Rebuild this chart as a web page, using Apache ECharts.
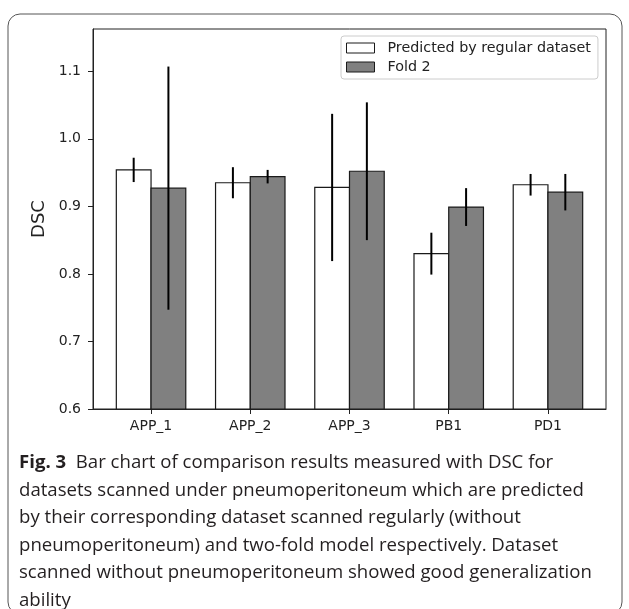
<!DOCTYPE html>
<html>
<head>
<meta charset="utf-8">
<title>DSC comparison</title>
<script src="https://cdn.jsdelivr.net/npm/echarts@6/dist/echarts.min.js"></script>
<style>
  html, body { margin: 0; padding: 0; background: #fff; }
  #main { width: 629px; height: 609px; }
</style>
</head>
<body>
<div id="main"></div>
<script>
// data
var categories = ['APP_1', 'APP_2', 'APP_3', 'PB1', 'PD1'];
var regularMean = [0.954, 0.935, 0.928, 0.830, 0.932];
var regularErr = [0.018, 0.023, 0.109, 0.031, 0.016];
var foldMean = [0.927, 0.944, 0.952, 0.899, 0.921];
var foldErr = [0.180, 0.010, 0.102, 0.028, 0.027];
var yTicks = [0.6, 0.7, 0.8, 0.9, 1.0, 1.1];
var seriesNames = ['Predicted by regular dataset', 'Fold 2'];
var captionLines = [
    '{b|Fig. 3}  Bar chart of comparison results measured with DSC for',
    'datasets scanned under pneumoperitoneum which are predicted',
    'by their corresponding dataset scanned regularly (without',
    'pneumoperitoneum) and two-fold model respectively. Dataset',
    'scanned without pneumoperitoneum showed good generalization',
    'ability'
];

var BAR_W = 0.35;
var Y_MIN = 0.6;
var TXT = '#222';

var chart = echarts.init(document.getElementById('main'));

function toData(means, errs) {
    return means.map(function (m, i) {
        return [i, m, errs[i]];
    });
}

// bar + vertical error line, positioned through the axes
function barRenderer(offset, fill) {
    return function (params, api) {
        var x = api.value(0) + offset;
        var mean = api.value(1);
        var err = api.value(2);
        var tl = api.coord([x - BAR_W / 2, mean]);
        var br = api.coord([x + BAR_W / 2, Y_MIN]);
        var et = api.coord([x, mean + err]);
        var eb = api.coord([x, mean - err]);
        return {
            type: 'group',
            children: [{
                type: 'rect',
                shape: {x: tl[0], y: tl[1], width: br[0] - tl[0], height: br[1] - tl[1]},
                style: {fill: fill, stroke: '#1a1a1a', lineWidth: 1.2}
            }, {
                type: 'line',
                shape: {x1: et[0], y1: et[1], x2: eb[0], y2: eb[1]},
                style: {stroke: '#000', lineWidth: 2}
            }]
        };
    };
}

var catIdx = categories.map(function (c, i) { return i; });

chart.setOption({
    backgroundColor: '#fff',
    animation: false,
    grid: {
        left: 93, right: 23, top: 29, bottom: 200,
        show: true, borderColor: TXT, borderWidth: 1
    },
    legend: {
        orient: 'vertical',
        left: 341, top: 36,
        padding: [5, 7, 5, 5],
        itemGap: 5,
        itemWidth: 28, itemHeight: 10,
        icon: 'rect',
        backgroundColor: 'rgba(255,255,255,0.8)',
        borderColor: '#cccccc', borderWidth: 1, borderRadius: 3,
        textStyle: {color: TXT, fontFamily: 'DejaVu Sans', fontSize: 14.3, padding: [0, 0, 0, 8]},
        data: [
            {name: seriesNames[0], itemStyle: {color: '#ffffff', borderColor: '#1a1a1a', borderWidth: 1}},
            {name: seriesNames[1], itemStyle: {color: '#808080', borderColor: '#1a1a1a', borderWidth: 1}}
        ]
    },
    xAxis: {
        type: 'value',
        min: -0.585, max: 4.585,
        axisLine: {show: true, onZero: false, lineStyle: {color: TXT}},
        axisTick: {show: true, customValues: catIdx, length: 5, lineStyle: {color: TXT}},
        axisLabel: {
            customValues: catIdx,
            margin: 10,
            color: TXT, fontFamily: 'DejaVu Sans', fontSize: 14,
            formatter: function (v) { return categories[Math.round(v)]; }
        },
        splitLine: {show: false}
    },
    yAxis: {
        type: 'value',
        min: Y_MIN, max: 1.1626,
        name: 'DSC',
        nameLocation: 'middle',
        nameGap: 45,
        nameTextStyle: {color: TXT, fontFamily: 'DejaVu Sans', fontSize: 18},
        axisLine: {show: true, onZero: false, lineStyle: {color: TXT}},
        axisTick: {show: true, customValues: yTicks, length: 5, lineStyle: {color: TXT}},
        axisLabel: {
            customValues: yTicks,
            margin: 12,
            color: TXT, fontFamily: 'DejaVu Sans', fontSize: 14,
            formatter: function (v) { return v.toFixed(1); }
        },
        splitLine: {show: false}
    },
    series: [{
        name: seriesNames[0],
        type: 'custom',
        itemStyle: {color: '#ffffff', borderColor: '#1a1a1a'},
        renderItem: barRenderer(-BAR_W / 2, '#ffffff'),
        encode: {x: 0, y: 1},
        data: toData(regularMean, regularErr)
    }, {
        name: seriesNames[1],
        type: 'custom',
        itemStyle: {color: '#808080', borderColor: '#1a1a1a'},
        renderItem: barRenderer(BAR_W / 2, '#808080'),
        encode: {x: 0, y: 1},
        data: toData(foldMean, foldErr)
    }],
    graphic: [{
        type: 'rect',
        silent: true,
        shape: {x: 8, y: 14, width: 614, height: 600, r: 12},
        style: {fill: null, stroke: '#555', lineWidth: 1}
    }, {
        type: 'text',
        silent: true,
        left: 19, top: 449,
        style: {
            text: captionLines.join('\n'),
            fill: '#231f20',
            font: '18.6px "Open Sans"',
            lineHeight: 27.5,
            rich: {
                b: {fontWeight: 'bold', fontFamily: 'Open Sans', fontSize: 18.6, lineHeight: 27.5, fill: '#231f20'}
            }
        }
    }]
});
</script>
</body>
</html>
